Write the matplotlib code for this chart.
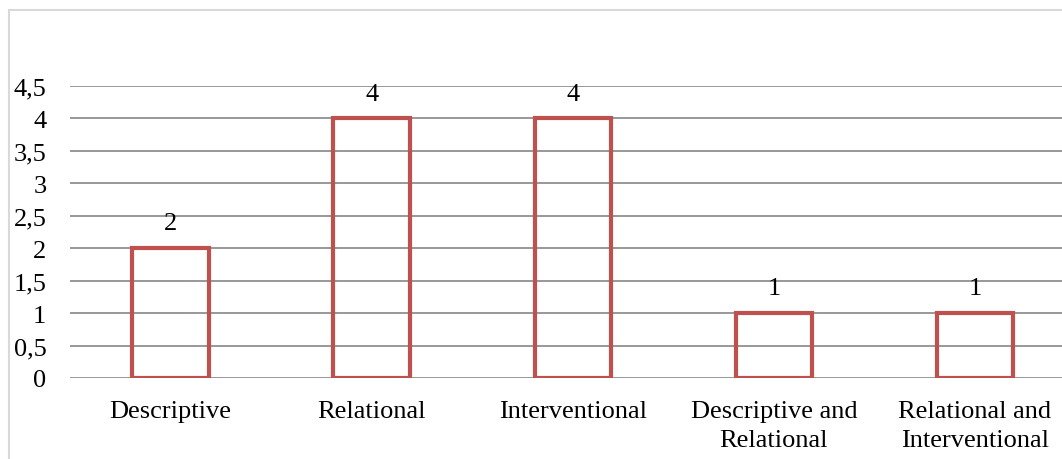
import matplotlib
matplotlib.use('Agg')
import matplotlib.pyplot as plt
from matplotlib.patches import Rectangle

categories = ['Descriptive', 'Relational', 'Interventional',
              'Descriptive and\nRelational', 'Relational and\nInterventional']
values = [2, 4, 4, 1, 1]
y_ticks = [0, 0.5, 1, 1.5, 2, 2.5, 3, 3.5, 4, 4.5]
y_tick_labels = ['0', '0,5', '1', '1,5', '2', '2,5', '3', '3,5', '4', '4,5']

plt.rcParams['font.family'] = ['Liberation Serif', 'DejaVu Serif']
plt.rcParams['font.size'] = 19

W, H = 1062, 460
fig = plt.figure(figsize=(W / 100, H / 100), dpi=100)
fig.patch.set_facecolor('white')

# light gray chart-area frame (runs off the right and bottom edges)
fig.patches.append(Rectangle((9 / W, -0.1), 1.2, 1.1 - 11 / H, transform=fig.transFigure,
                             fill=False, edgecolor='#D9D9D9', linewidth=1.5))

ax = fig.add_axes([70 / W, 1 - 379 / H, 1 - 70 / W, (379 - 87) / H])
x = list(range(len(categories)))
bars = ax.bar(x, values, width=0.38, facecolor='none', edgecolor='#C0504D', linewidth=3, zorder=3)

for xi, v in zip(x, values):
    ax.annotate(str(v), (xi, v), xytext=(0, 10), textcoords='offset points',
                ha='center', va='bottom', fontsize=19)

ax.set_xlim(-0.5, 4.433)
ax.set_ylim(0, 4.5)
ax.set_yticks(y_ticks)
ax.set_yticklabels(y_tick_labels)
ax.set_xticks(x)
ax.set_xticklabels(categories, linespacing=1.4)
ax.tick_params(axis='both', length=0)
ax.tick_params(axis='y', pad=17)
ax.tick_params(axis='x', pad=16)
ax.yaxis.grid(True, color='#868686', linewidth=1.2)
ax.set_axisbelow(True)
for s in ax.spines.values():
    s.set_visible(False)

plt.savefig('out.png', dpi=100)
